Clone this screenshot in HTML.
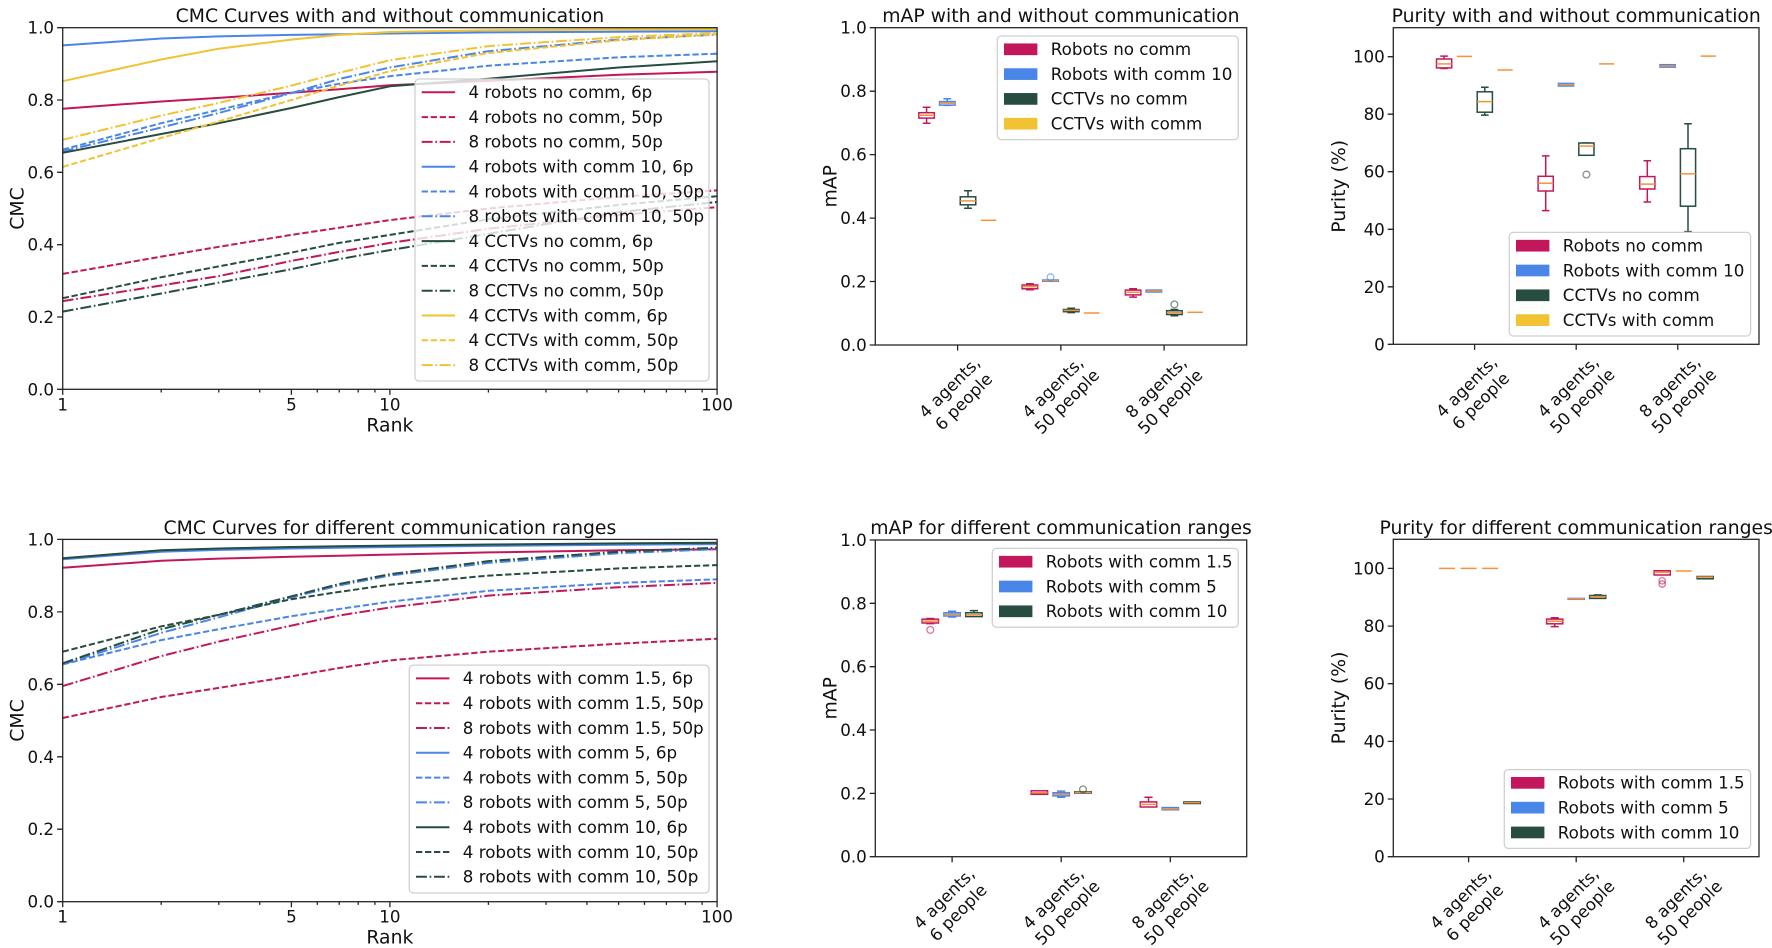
<!DOCTYPE html>
<html><head><meta charset="utf-8"><style>
html,body{margin:0;padding:0;background:#fff;}
svg{display:block;}
text{font-family:"DejaVu Sans","Liberation Sans",sans-serif;fill:#111;}
.lbl{font-size:16.7px;}
.yl{font-size:16.7px;text-anchor:end;}
.xl{font-size:16.7px;text-anchor:middle;}
.ttl{font-size:18.8px;text-anchor:middle;}
.al{font-size:18.8px;text-anchor:middle;}
.ax{fill:none;stroke:#262626;stroke-width:1.3;}
.tk{fill:none;stroke:#262626;stroke-width:1.3;}
.leg{fill:#fff;fill-opacity:0.8;stroke:#d0d0d0;stroke-width:1.3;}
.c{fill:none;stroke-width:2;stroke-linejoin:round;}
.d{stroke-dasharray:6.3 2.7;}
.dd{stroke-dasharray:10.9 2.7 1.7 2.7;}
.pk{stroke:#C2185B;} .bl{stroke:#4A86E8;} .gr{stroke:#264D3F;} .yw{stroke:#F1C232;}
.bx rect{fill:#fff;stroke-width:1.5;}
.bx path{fill:none;stroke-width:1.5;}
.md{stroke:#F7913A;stroke-width:1.8;fill:none;}
.fl{fill:none;stroke-width:1.3;stroke-opacity:0.6;}
</style></head><body>
<svg width="1772" height="948" viewBox="0 0 1772 948" xmlns="http://www.w3.org/2000/svg">
<rect width="1772" height="948" fill="#fff"/>

<!-- ================= TOP CMC ================= -->
<text class="ttl" x="389.9" y="22">CMC Curves with and without communication</text>
<g>
<polyline class="c pk" points="62.7,108.7 161.2,101.5 218.8,97.9 291.4,92.8 339.2,89.2 389.9,85.2 488.4,80.9 618.6,74.7 717.1,71.8"/>
<polyline class="c pk d" points="62.7,273.9 161.2,256.6 218.8,246.8 291.4,234.9 339.2,227.7 389.9,220.1 488.4,208.5 618.6,196.9 717.1,190.4"/>
<polyline class="c pk dd" points="62.7,301.1 161.2,285.5 218.8,276.1 291.4,260.9 339.2,251.9 389.9,242.9 488.4,228.7 618.6,215.0 717.1,207.1"/>
<polyline class="c bl" points="62.7,45.4 161.2,38.5 218.8,36.4 291.4,34.9 339.2,34.2 389.9,33.5 488.4,32.4 618.6,31.7 717.1,31.3"/>
<polyline class="c bl d" points="62.7,149.6 161.2,123.2 218.8,109.8 291.4,92.8 339.2,83.7 389.9,76.2 488.4,65.7 618.6,57.3 717.1,53.7"/>
<polyline class="c bl dd" points="62.7,151.4 161.2,127.5 218.8,113.0 291.4,93.1 339.2,79.0 389.9,67.5 488.4,51.2 618.6,39.6 717.1,34.6"/>
<polyline class="c gr" points="62.7,152.8 161.2,134.0 218.8,123.2 291.4,108.0 339.2,97.1 389.9,86.3 488.4,78.7 618.6,67.5 717.1,61.3"/>
<polyline class="c gr d" points="62.7,298.2 161.2,277.2 218.8,266.4 291.4,252.6 339.2,242.9 389.9,234.9 488.4,219.3 618.6,204.9 717.1,196.2"/>
<polyline class="c gr dd" points="62.7,311.6 161.2,293.5 218.8,282.6 291.4,269.2 339.2,259.1 389.9,250.1 488.4,233.8 618.6,212.1 717.1,202.0"/>
<polyline class="c yw" points="62.7,81.2 161.2,59.5 218.8,48.7 291.4,39.6 339.2,34.9 389.9,32.0 488.4,30.2 618.6,29.5 717.1,29.1"/>
<polyline class="c yw d" points="62.7,166.9 161.2,138.0 218.8,121.4 291.4,100.0 339.2,85.6 389.9,71.1 488.4,53.0 618.6,40.3 717.1,34.2"/>
<polyline class="c yw dd" points="62.7,139.8 161.2,115.6 218.8,102.9 291.4,85.6 339.2,72.9 389.9,60.2 488.4,46.1 618.6,37.1 717.1,33.1"/>
</g>
<rect class="ax" x="62.7" y="27.7" width="654.4" height="361.6"/>
<path class="tk" d="M57.1 389.3H62.7M57.1 317H62.7M57.1 244.7H62.7M57.1 172.3H62.7M57.1 100H62.7M57.1 27.7H62.7
M62.7 389.3V394.9M291.4 389.3V394.9M389.9 389.3V394.9M717.1 389.3V394.9
M161.2 389.3V392.5M218.8 389.3V392.5M259.7 389.3V392.5M317.3 389.3V392.5M339.2 389.3V392.5M358.2 389.3V392.5M374.9 389.3V392.5
M488.4 389.3V392.5M546 389.3V392.5M586.9 389.3V392.5M618.6 389.3V392.5M644.5 389.3V392.5M666.4 389.3V392.5M685.4 389.3V392.5M702.1 389.3V392.5"/>
<text class="yl" x="54" y="395.3">0.0</text>
<text class="yl" x="54" y="323">0.2</text>
<text class="yl" x="54" y="250.7">0.4</text>
<text class="yl" x="54" y="178.3">0.6</text>
<text class="yl" x="54" y="106">0.8</text>
<text class="yl" x="54" y="33.7">1.0</text>
<text class="xl" x="62.7" y="410.3">1</text>
<text class="xl" x="291.4" y="410.3">5</text>
<text class="xl" x="389.9" y="410.3">10</text>
<text class="xl" x="717.1" y="410.3">100</text>
<text class="al" x="389.9" y="431.5">Rank</text>
<text class="al" transform="translate(23.3,208.5) rotate(-90)" x="0" y="0">CMC</text>
<!-- legend -->
<rect class="leg" x="415" y="79" width="294" height="302" rx="4"/>
<g>
<line class="c pk" x1="421.7" y1="92.3" x2="455.1" y2="92.3"/>
<line class="c pk d" x1="421.7" y1="117.1" x2="455.1" y2="117.1"/>
<line class="c pk dd" x1="421.7" y1="141.9" x2="455.1" y2="141.9"/>
<line class="c bl" x1="421.7" y1="166.7" x2="455.1" y2="166.7"/>
<line class="c bl d" x1="421.7" y1="191.5" x2="455.1" y2="191.5"/>
<line class="c bl dd" x1="421.7" y1="216.3" x2="455.1" y2="216.3"/>
<line class="c gr" x1="421.7" y1="241.1" x2="455.1" y2="241.1"/>
<line class="c gr d" x1="421.7" y1="265.9" x2="455.1" y2="265.9"/>
<line class="c gr dd" x1="421.7" y1="290.7" x2="455.1" y2="290.7"/>
<line class="c yw" x1="421.7" y1="315.5" x2="455.1" y2="315.5"/>
<line class="c yw d" x1="421.7" y1="340.3" x2="455.1" y2="340.3"/>
<line class="c yw dd" x1="421.7" y1="365.1" x2="455.1" y2="365.1"/>
</g>
<g class="lbl">
<text x="468.5" y="98.1">4 robots no comm, 6p</text>
<text x="468.5" y="122.9">4 robots no comm, 50p</text>
<text x="468.5" y="147.7">8 robots no comm, 50p</text>
<text x="468.5" y="172.5">4 robots with comm 10, 6p</text>
<text x="468.5" y="197.3">4 robots with comm 10, 50p</text>
<text x="468.5" y="222.1">8 robots with comm 10, 50p</text>
<text x="468.5" y="246.9">4 CCTVs no comm, 6p</text>
<text x="468.5" y="271.7">4 CCTVs no comm, 50p</text>
<text x="468.5" y="296.5">8 CCTVs no comm, 50p</text>
<text x="468.5" y="321.3">4 CCTVs with comm, 6p</text>
<text x="468.5" y="346.1">4 CCTVs with comm, 50p</text>
<text x="468.5" y="370.9">8 CCTVs with comm, 50p</text>
</g>

<!-- ================= BOTTOM CMC ================= -->
<text class="ttl" x="389.9" y="534">CMC Curves for different communication ranges</text>
<g>
<polyline class="c pk" points="62.7,567.7 161.2,560.8 218.8,558.6 291.4,556.8 339.2,555.7 389.9,554.6 488.4,552.4 618.6,550.3 717.1,549.2"/>
<polyline class="c pk d" points="62.7,718.0 161.2,697.0 218.8,687.9 291.4,676.3 339.2,668.0 389.9,660.4 488.4,651.7 618.6,643.7 717.1,638.7"/>
<polyline class="c pk dd" points="62.7,686.1 161.2,656.1 218.8,641.6 291.4,625.6 339.2,615.5 389.9,607.5 488.4,595.6 618.6,587.2 717.1,582.9"/>
<polyline class="c bl" points="62.7,559.3 161.2,551.7 218.8,549.9 291.4,548.5 339.2,547.7 389.9,547.0 488.4,545.9 618.6,544.8 717.1,544.1"/>
<polyline class="c bl d" points="62.7,664.4 161.2,640.1 218.8,629.2 291.4,616.2 339.2,609.0 389.9,601.7 488.4,590.8 618.6,582.9 717.1,579.3"/>
<polyline class="c bl dd" points="62.7,664.4 161.2,632.9 218.8,617.3 291.4,597.4 339.2,585.4 389.9,575.6 488.4,562.9 618.6,553.2 717.1,549.2"/>
<polyline class="c gr" points="62.7,558.2 161.2,550.3 218.8,548.5 291.4,547.0 339.2,546.3 389.9,545.6 488.4,544.5 618.6,543.4 717.1,542.7"/>
<polyline class="c gr d" points="62.7,651.7 161.2,626.4 218.8,614.8 291.4,599.2 339.2,591.9 389.9,584.7 488.4,575.6 618.6,568.4 717.1,565.1"/>
<polyline class="c gr dd" points="62.7,663.3 161.2,629.2 218.8,614.8 291.4,596.3 339.2,584.0 389.9,574.2 488.4,561.1 618.6,551.7 717.1,547.7"/>
</g>
<rect class="ax" x="62.7" y="539.4" width="654.4" height="362.3"/>
<path class="tk" d="M57.1 901.7H62.7M57.1 829.2H62.7M57.1 756.8H62.7M57.1 684.3H62.7M57.1 611.9H62.7M57.1 539.4H62.7
M62.7 901.7V907.3M291.4 901.7V907.3M389.9 901.7V907.3M717.1 901.7V907.3
M161.2 901.7V904.9M218.8 901.7V904.9M259.7 901.7V904.9M317.3 901.7V904.9M339.2 901.7V904.9M358.2 901.7V904.9M374.9 901.7V904.9
M488.4 901.7V904.9M546 901.7V904.9M586.9 901.7V904.9M618.6 901.7V904.9M644.5 901.7V904.9M666.4 901.7V904.9M685.4 901.7V904.9M702.1 901.7V904.9"/>
<text class="yl" x="54" y="907.7">0.0</text>
<text class="yl" x="54" y="835.2">0.2</text>
<text class="yl" x="54" y="762.8">0.4</text>
<text class="yl" x="54" y="690.3">0.6</text>
<text class="yl" x="54" y="617.9">0.8</text>
<text class="yl" x="54" y="545.4">1.0</text>
<text class="xl" x="62.7" y="922.7">1</text>
<text class="xl" x="291.4" y="922.7">5</text>
<text class="xl" x="389.9" y="922.7">10</text>
<text class="xl" x="717.1" y="922.7">100</text>
<text class="al" x="389.9" y="943.5">Rank</text>
<text class="al" transform="translate(23.3,720.5) rotate(-90)" x="0" y="0">CMC</text>
<rect class="leg" x="409.3" y="665.1" width="299.7" height="227.9" rx="4"/>
<g>
<line class="c pk" x1="416" y1="678.4" x2="449.4" y2="678.4"/>
<line class="c pk d" x1="416" y1="703.2" x2="449.4" y2="703.2"/>
<line class="c pk dd" x1="416" y1="728.0" x2="449.4" y2="728.0"/>
<line class="c bl" x1="416" y1="752.8" x2="449.4" y2="752.8"/>
<line class="c bl d" x1="416" y1="777.6" x2="449.4" y2="777.6"/>
<line class="c bl dd" x1="416" y1="802.4" x2="449.4" y2="802.4"/>
<line class="c gr" x1="416" y1="827.2" x2="449.4" y2="827.2"/>
<line class="c gr d" x1="416" y1="852.0" x2="449.4" y2="852.0"/>
<line class="c gr dd" x1="416" y1="876.8" x2="449.4" y2="876.8"/>
</g>
<g class="lbl">
<text x="462.8" y="684.2">4 robots with comm 1.5, 6p</text>
<text x="462.8" y="709.0">4 robots with comm 1.5, 50p</text>
<text x="462.8" y="733.8">8 robots with comm 1.5, 50p</text>
<text x="462.8" y="758.6">4 robots with comm 5, 6p</text>
<text x="462.8" y="783.4">4 robots with comm 5, 50p</text>
<text x="462.8" y="808.2">8 robots with comm 5, 50p</text>
<text x="462.8" y="833.0">4 robots with comm 10, 6p</text>
<text x="462.8" y="857.8">4 robots with comm 10, 50p</text>
<text x="462.8" y="882.6">8 robots with comm 10, 50p</text>
</g>

<!-- ================= TOP mAP ================= -->
<text class="ttl" x="1060.9" y="22">mAP with and without communication</text>
<!-- boxes group 1 -->
<g class="bx">
<g stroke="#C2185B"><path d="M926.6 107.3V112.7M926.6 118.1V123.2M922.7 107.3H930.5M922.7 123.2H930.5"/><rect x="918.85" y="112.7" width="15.5" height="5.4"/></g>
<path class="md" d="M918.85 115.3H934.35"/>
<g stroke="#4A86E8"><path d="M947.3 98.8V101.6M943.4 98.8H951.2M943.4 105.4H951.2"/><rect x="939.55" y="101.6" width="15.5" height="3.5"/></g>
<path class="md" d="M939.55 103.2H955.05"/>
<g stroke="#264D3F"><path d="M968 190.8V196.8M968 204.8V208.2M964.1 190.8H971.9M964.1 208.2H971.9"/><rect x="960.25" y="196.8" width="15.5" height="8"/></g>
<path class="md" d="M960.25 200.9H975.75"/>
<path class="md" d="M980.85 220.3H996.35"/>
<!-- group 2 -->
<g stroke="#C2185B"><path d="M1029.9 283.8V285M1029.9 288.8V289.8M1026 283.8H1033.8M1026 289.8H1033.8"/><rect x="1022.15" y="285" width="15.5" height="3.8"/></g>
<path class="md" d="M1022.15 286.6H1037.65"/>
<g stroke="#4A86E8"><rect x="1042.75" y="280" width="15.5" height="1.3"/></g>
<path class="md" d="M1042.75 280.6H1058.25"/>
<circle class="fl" cx="1050.5" cy="277.2" r="3.4" stroke="#4A86E8"/>
<g stroke="#264D3F"><path d="M1071.2 308.2V309.5M1071.2 311.7V312.6M1067.3 308.2H1075.1M1067.3 312.6H1075.1"/><rect x="1063.45" y="309.5" width="15.5" height="2.2"/></g>
<path class="md" d="M1063.45 310.4H1078.95"/>
<path class="md" d="M1084.05 313H1099.55"/>
<!-- group 3 -->
<g stroke="#C2185B"><path d="M1133.1 288.8V290.1M1133.1 294.9V297.1M1129.2 288.8H1137M1129.2 297.1H1137"/><rect x="1125.35" y="290.1" width="15.5" height="4.8"/></g>
<path class="md" d="M1125.35 292.3H1140.85"/>
<g stroke="#4A86E8"><rect x="1146.05" y="290.1" width="15.5" height="1.9"/></g>
<path class="md" d="M1146.05 291.1H1161.55"/>
<g stroke="#264D3F"><path d="M1174.4 309.5V310.7M1174.4 314.5V315.8M1170.5 309.5H1178.3M1170.5 315.8H1178.3"/><rect x="1166.65" y="310.7" width="15.5" height="3.8"/></g>
<path class="md" d="M1166.65 312.6H1182.15"/>
<circle class="fl" cx="1174.4" cy="304.4" r="3.4" stroke="#264D3F"/>
<path class="md" d="M1187.35 312.3H1202.85"/>
</g>
<rect class="ax" x="875.3" y="27.7" width="371.4" height="317.3"/>
<path class="tk" d="M869.7 345H875.3M869.7 281.5H875.3M869.7 218.1H875.3M869.7 154.6H875.3M869.7 91.2H875.3M869.7 27.7H875.3
M957.6 345V350.6M1060.85 345V350.6M1164.1 345V350.6"/>
<text class="yl" x="866.8" y="351">0.0</text>
<text class="yl" x="866.8" y="287.5">0.2</text>
<text class="yl" x="866.8" y="224.1">0.4</text>
<text class="yl" x="866.8" y="160.6">0.6</text>
<text class="yl" x="866.8" y="97.2">0.8</text>
<text class="yl" x="866.8" y="33.7">1.0</text>
<g class="xl">
<text transform="translate(957.6,395.5) rotate(-45)"><tspan x="0" y="-5.6">4 agents,</tspan><tspan x="0" y="14.4">6 people</tspan></text>
<text transform="translate(1060.85,395.5) rotate(-45)"><tspan x="0" y="-5.6">4 agents,</tspan><tspan x="0" y="14.4">50 people</tspan></text>
<text transform="translate(1164.1,395.5) rotate(-45)"><tspan x="0" y="-5.6">8 agents,</tspan><tspan x="0" y="14.4">50 people</tspan></text>
</g>
<text class="al" transform="translate(836.7,186.3) rotate(-90)" x="0" y="0">mAP</text>
<rect class="leg" x="997.3" y="36" width="241" height="103.6" rx="4"/>
<rect x="1004" y="43.45" width="33.4" height="11.7" fill="#C2185B"/>
<rect x="1004" y="68.25" width="33.4" height="11.7" fill="#4A86E8"/>
<rect x="1004" y="93.05" width="33.4" height="11.7" fill="#264D3F"/>
<rect x="1004" y="117.85" width="33.4" height="11.7" fill="#F1C232"/>
<g class="lbl">
<text x="1050.8" y="55.1">Robots no comm</text>
<text x="1050.8" y="79.9">Robots with comm 10</text>
<text x="1050.8" y="104.7">CCTVs no comm</text>
<text x="1050.8" y="129.5">CCTVs with comm</text>
</g>

<!-- ================= TOP PURITY ================= -->
<text class="ttl" x="1576.2" y="22">Purity with and without communication</text>
<g class="bx">
<!-- group1 -->
<g stroke="#C2185B"><path d="M1444.1 56.1V59M1444.1 67.9V68.5M1440.3 56.1H1447.9M1440.3 68.5H1447.9"/><rect x="1436.5" y="59" width="15.2" height="8.9"/></g>
<path class="md" d="M1436.5 63.9H1451.7"/>
<path class="md" d="M1456.8 56.4H1472"/>
<g stroke="#264D3F"><path d="M1484.8 87.2V91.8M1484.8 112.2V115.1M1481 87.2H1488.6M1481 115.1H1488.6"/><rect x="1477.2" y="91.8" width="15.2" height="20.4"/></g>
<path class="md" d="M1477.2 101.6H1492.4"/>
<path class="md" d="M1497.5 70H1512.7"/>
<!-- group2 -->
<g stroke="#C2185B"><path d="M1545.7 155.9V176.3M1545.7 191V210.6M1541.9 155.9H1549.5M1541.9 210.6H1549.5"/><rect x="1538.1" y="176.3" width="15.2" height="14.7"/></g>
<path class="md" d="M1538.1 183.2H1553.3"/>
<g stroke="#4A86E8"><rect x="1558.4" y="83.4" width="15.2" height="2.6"/></g>
<path class="md" d="M1558.4 84.6H1573.6"/>
<g stroke="#264D3F"><path d="M1582.6 143H1590.2M1582.6 155.3H1590.2"/><rect x="1578.8" y="143" width="15.2" height="12.3"/></g>
<path class="md" d="M1578.8 146.1H1594"/>
<circle class="fl" cx="1586.4" cy="174.6" r="3.4" stroke="#264D3F"/>
<path class="md" d="M1599.1 63.9H1614.3"/>
<!-- group3 -->
<g stroke="#C2185B"><path d="M1647.3 160.8V176.6M1647.3 189V202M1643.5 160.8H1651.1M1643.5 202H1651.1"/><rect x="1639.7" y="176.6" width="15.2" height="12.4"/></g>
<path class="md" d="M1639.7 184.1H1654.9"/>
<g stroke="#4A86E8"><rect x="1660" y="64.7" width="15.2" height="2.4"/></g>
<path class="md" d="M1660 65.9H1675.2"/>
<g stroke="#264D3F"><path d="M1688 123.7V148.7M1688 206.2V231.6M1684.2 123.7H1691.8M1684.2 231.6H1691.8"/><rect x="1680.4" y="148.7" width="15.2" height="57.5"/></g>
<path class="md" d="M1680.4 173.8H1695.6"/>
<path class="md" d="M1700.7 56.1H1715.9"/>
</g>
<rect class="ax" x="1393.3" y="27.7" width="365.7" height="316.6"/>
<path class="tk" d="M1387.7 344.3H1393.3M1387.7 286.8H1393.3M1387.7 229.3H1393.3M1387.7 171.7H1393.3M1387.7 114.2H1393.3M1387.7 56.7H1393.3
M1474.6 344.3V349.9M1576.2 344.3V349.9M1677.8 344.3V349.9"/>
<text class="yl" x="1384.8" y="350.3">0</text>
<text class="yl" x="1384.8" y="292.8">20</text>
<text class="yl" x="1384.8" y="235.3">40</text>
<text class="yl" x="1384.8" y="177.7">60</text>
<text class="yl" x="1384.8" y="120.2">80</text>
<text class="yl" x="1384.8" y="62.7">100</text>
<g class="xl">
<text transform="translate(1474.6,394.8) rotate(-45)"><tspan x="0" y="-5.6">4 agents,</tspan><tspan x="0" y="14.4">6 people</tspan></text>
<text transform="translate(1576.2,394.8) rotate(-45)"><tspan x="0" y="-5.6">4 agents,</tspan><tspan x="0" y="14.4">50 people</tspan></text>
<text transform="translate(1677.8,394.8) rotate(-45)"><tspan x="0" y="-5.6">8 agents,</tspan><tspan x="0" y="14.4">50 people</tspan></text>
</g>
<text class="al" transform="translate(1345,186.3) rotate(-90)" x="0" y="0">Purity (%)</text>
<rect class="leg" x="1509.3" y="232.4" width="241.3" height="103.6" rx="4"/>
<rect x="1516" y="239.85" width="33.4" height="11.7" fill="#C2185B"/>
<rect x="1516" y="264.65" width="33.4" height="11.7" fill="#4A86E8"/>
<rect x="1516" y="289.45" width="33.4" height="11.7" fill="#264D3F"/>
<rect x="1516" y="314.25" width="33.4" height="11.7" fill="#F1C232"/>
<g class="lbl">
<text x="1562.8" y="251.5">Robots no comm</text>
<text x="1562.8" y="276.3">Robots with comm 10</text>
<text x="1562.8" y="301.1">CCTVs no comm</text>
<text x="1562.8" y="325.9">CCTVs with comm</text>
</g>

<!-- ================= BOTTOM mAP ================= -->
<text class="ttl" x="1061" y="534">mAP for different communication ranges</text>
<g class="bx">
<g stroke="#C2185B"><path d="M930.3 618.5V619.2M930.3 623V623.6M926.2 618.5H934.4M926.2 623.6H934.4"/><rect x="922.1" y="619.2" width="16.4" height="3.8"/></g>
<path class="md" d="M922.1 621.1H938.5"/>
<circle class="fl" cx="930.3" cy="629.9" r="3.4" stroke="#C2185B"/>
<g stroke="#4A86E8"><path d="M952.1 611.2V612.8M952.1 616V617M948 611.2H956.2M948 617H956.2"/><rect x="943.9" y="612.8" width="16.4" height="3.2"/></g>
<path class="md" d="M943.9 614.4H960.3"/>
<g stroke="#264D3F"><path d="M973.9 610.6V612.8M969.8 610.6H978"/><rect x="965.7" y="612.8" width="16.4" height="3.8"/></g>
<path class="md" d="M965.7 614.7H982.1"/>
<g stroke="#C2185B"><rect x="1031.2" y="790.8" width="16.4" height="3.5"/></g>
<path class="md" d="M1031.2 792.7H1047.6"/>
<g stroke="#4A86E8"><path d="M1061.2 791.1V792.7M1061.2 795.9V797.2M1057.1 791.1H1065.3M1057.1 797.2H1065.3"/><rect x="1053" y="792.7" width="16.4" height="3.2"/></g>
<path class="md" d="M1053 794.3H1069.4"/>
<g stroke="#264D3F"><rect x="1074.8" y="791.8" width="16.4" height="1.2"/></g>
<path class="md" d="M1074.8 792.4H1091.2"/>
<circle class="fl" cx="1083" cy="789.4" r="3.4" stroke="#264D3F"/>
<g stroke="#C2185B"><path d="M1148.5 797.2V801.9M1144.4 797.2H1152.6"/><rect x="1140.3" y="801.9" width="16.4" height="5.1"/></g>
<path class="md" d="M1140.3 804.4H1156.7"/>
<g stroke="#4A86E8"><rect x="1162.1" y="807.6" width="16.4" height="2.2"/></g>
<path class="md" d="M1162.1 808.9H1178.5"/>
<g stroke="#264D3F"><rect x="1183.9" y="801.9" width="16.4" height="1.6"/></g>
<path class="md" d="M1183.9 802.6H1200.3"/>
</g>
<rect class="ax" x="875.3" y="540" width="371.4" height="316.7"/>
<path class="tk" d="M869.7 856.7H875.3M869.7 793.4H875.3M869.7 730H875.3M869.7 666.7H875.3M869.7 603.3H875.3M869.7 540H875.3
M952.1 856.7V862.3M1061.2 856.7V862.3M1170.3 856.7V862.3"/>
<text class="yl" x="866.8" y="862.7">0.0</text>
<text class="yl" x="866.8" y="799.4">0.2</text>
<text class="yl" x="866.8" y="736">0.4</text>
<text class="yl" x="866.8" y="672.7">0.6</text>
<text class="yl" x="866.8" y="609.3">0.8</text>
<text class="yl" x="866.8" y="546">1.0</text>
<g class="xl">
<text transform="translate(952.1,906.5) rotate(-45)"><tspan x="0" y="-5.6">4 agents,</tspan><tspan x="0" y="14.4">6 people</tspan></text>
<text transform="translate(1061.2,906.5) rotate(-45)"><tspan x="0" y="-5.6">4 agents,</tspan><tspan x="0" y="14.4">50 people</tspan></text>
<text transform="translate(1170.3,906.5) rotate(-45)"><tspan x="0" y="-5.6">8 agents,</tspan><tspan x="0" y="14.4">50 people</tspan></text>
</g>
<text class="al" transform="translate(836.7,698.3) rotate(-90)" x="0" y="0">mAP</text>
<rect class="leg" x="992.3" y="548.4" width="246" height="78.8" rx="4"/>
<rect x="999" y="555.85" width="33.4" height="11.7" fill="#C2185B"/>
<rect x="999" y="580.65" width="33.4" height="11.7" fill="#4A86E8"/>
<rect x="999" y="605.45" width="33.4" height="11.7" fill="#264D3F"/>
<g class="lbl">
<text x="1045.8" y="567.5">Robots with comm 1.5</text>
<text x="1045.8" y="592.3">Robots with comm 5</text>
<text x="1045.8" y="617.1">Robots with comm 10</text>
</g>

<!-- ================= BOTTOM PURITY ================= -->
<text class="ttl" x="1576.2" y="534">Purity for different communication ranges</text>
<g class="bx">
<path class="md" d="M1439.05 568.4H1455.15"/>
<path class="md" d="M1460.55 568.4H1476.65"/>
<path class="md" d="M1482.05 568.4H1498.15"/>
<g stroke="#C2185B"><path d="M1554.7 617.7V619.1M1554.7 623.8V626.6M1550.7 617.7H1558.7M1550.7 626.6H1558.7"/><rect x="1546.65" y="619.1" width="16.1" height="4.7"/></g>
<path class="md" d="M1546.65 621.2H1562.75"/>
<g stroke="#4A86E8"><rect x="1568.15" y="598.4" width="16.1" height="0.9"/></g>
<path class="md" d="M1568.15 598.7H1584.25"/>
<g stroke="#264D3F"><path d="M1593.7 594.9H1601.7"/><rect x="1589.65" y="595.5" width="16.1" height="2.9"/></g>
<path class="md" d="M1589.65 596.6H1605.75"/>
<g stroke="#C2185B"><rect x="1654.15" y="570.7" width="16.1" height="4.3"/></g>
<path class="md" d="M1654.15 572.4H1670.25"/>
<circle class="fl" cx="1662.2" cy="580.8" r="3.2" stroke="#C2185B"/>
<circle class="fl" cx="1662.2" cy="584" r="3.2" stroke="#C2185B"/>
<path class="md" d="M1675.65 571H1691.75"/>
<g stroke="#264D3F"><rect x="1697.15" y="576.5" width="16.1" height="2.3"/></g>
<path class="md" d="M1697.15 577.1H1713.25"/>
</g>
<rect class="ax" x="1393.3" y="539.3" width="365.7" height="317.4"/>
<path class="tk" d="M1387.7 856.7H1393.3M1387.7 799H1393.3M1387.7 741.4H1393.3M1387.7 683.7H1393.3M1387.7 626.1H1393.3M1387.7 568.4H1393.3
M1468.6 856.7V862.3M1576.2 856.7V862.3M1683.7 856.7V862.3"/>
<text class="yl" x="1384.8" y="862.7">0</text>
<text class="yl" x="1384.8" y="805">20</text>
<text class="yl" x="1384.8" y="747.4">40</text>
<text class="yl" x="1384.8" y="689.7">60</text>
<text class="yl" x="1384.8" y="632.1">80</text>
<text class="yl" x="1384.8" y="574.4">100</text>
<g class="xl">
<text transform="translate(1468.6,906.5) rotate(-45)"><tspan x="0" y="-5.6">4 agents,</tspan><tspan x="0" y="14.4">6 people</tspan></text>
<text transform="translate(1576.2,906.5) rotate(-45)"><tspan x="0" y="-5.6">4 agents,</tspan><tspan x="0" y="14.4">50 people</tspan></text>
<text transform="translate(1683.7,906.5) rotate(-45)"><tspan x="0" y="-5.6">8 agents,</tspan><tspan x="0" y="14.4">50 people</tspan></text>
</g>
<text class="al" transform="translate(1345,698) rotate(-90)" x="0" y="0">Purity (%)</text>
<rect class="leg" x="1504.3" y="769.6" width="246.3" height="78.8" rx="4"/>
<rect x="1511" y="777" width="33.4" height="11.7" fill="#C2185B"/>
<rect x="1511" y="801.8" width="33.4" height="11.7" fill="#4A86E8"/>
<rect x="1511" y="826.6" width="33.4" height="11.7" fill="#264D3F"/>
<g class="lbl">
<text x="1557.8" y="788.7">Robots with comm 1.5</text>
<text x="1557.8" y="813.5">Robots with comm 5</text>
<text x="1557.8" y="838.3">Robots with comm 10</text>
</g>
</svg>
</body></html>
